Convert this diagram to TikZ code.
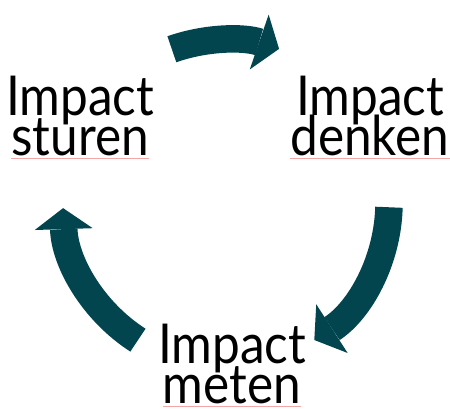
\documentclass[tikz,border=0pt]{standalone}
\usepackage{fontspec}
\setmainfont[FakeStretch=0.9]{Lato}
\usetikzlibrary{arrows.meta,calc}
\definecolor{cycleteal}{HTML}{03454F}
\definecolor{spellred}{HTML}{F2A6A6}
\tikzset{
  phase/.style={font=\fontsize{55}{55}\selectfont, inner sep=0pt, anchor=base},
  cyclearrow/.style={draw=cycleteal, line width=27.5pt,
    -{Triangle[length=21pt,width=58pt,line width=0pt]}},
  spell/.style={draw=spellred, line width=0.8pt}
}
% two-word label: "Impact" on top, the second word below it, marked as by a spell checker
\newcommand{\phaselabel}[3]{
  \node[phase] (#1-top) at (#2) {Impact};
  \node[phase] (#1-bot) at ([yshift=-40pt]#1-top.base) {#3};
  \draw[spell] ([yshift=-3pt]#1-bot.base west) -- ([yshift=-3pt]#1-bot.base east)}

\begin{document}
\begin{tikzpicture}[x=1pt,y=1pt]
  \useasboundingbox (0,0) rectangle (450,408);
  \coordinate (c) at (226,205);

  \phaselabel{sturen}{80,293}{sturen};
  \phaselabel{denken}{370,293}{denken};
  \phaselabel{meten}{232,44.5}{meten};

  \coordinate (from-sturen) at ($(c)+(109.4:163)$);
  \coordinate (from-denken) at ($(c)+(-1.5:163)$);
  \coordinate (from-meten)  at ($(c)+(237.3:163)$);
  \draw[cyclearrow] (from-sturen) arc[start angle=109.4, end angle=71, radius=163];
  \draw[cyclearrow] (from-denken) arc[start angle=-1.5, end angle=-57.2, radius=163];
  \draw[cyclearrow] (from-meten)  arc[start angle=237.3, end angle=181.8, radius=163];
\end{tikzpicture}
\end{document}
